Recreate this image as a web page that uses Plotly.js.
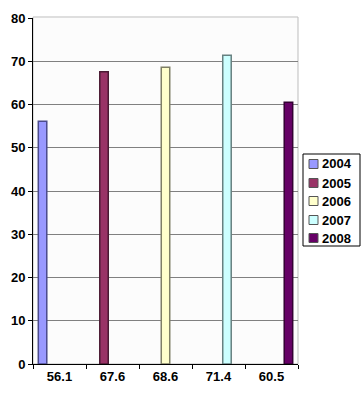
<!DOCTYPE html>
<html>
<head>
<meta charset="utf-8">
<script src="https://cdn.plot.ly/plotly-3.0.1.min.js"></script>
<style>html,body{margin:0;padding:0;background:#fff;}#chart{width:361px;height:400px;}</style>
</head>
<body>
<div id="chart"></div>
<script>
// ---- data ----
var categories = ["56.1", "67.6", "68.6", "71.4", "60.5"];
var seriesNames = ["2004", "2005", "2006", "2007", "2008"];
var s2004 = [56.1, null, null, null, null];
var s2005 = [null, 67.6, null, null, null];
var s2006 = [null, null, 68.6, null, null];
var s2007 = [null, null, null, 71.4, null];
var s2008 = [null, null, null, null, 60.5];
var yTicks = [0, 10, 20, 30, 40, 50, 60, 70, 80];

// ---- styles ----
var fills = ["#9999FF", "#993366", "#FFFFCC", "#CCFFFF", "#660066"];
var edges = ["#4B4B8C", "#4A1A33", "#7F7F66", "#668080", "#330033"];
var seriesValues = [s2004, s2005, s2006, s2007, s2008];

var W = 361, H = 400;
var M = {l: 33, r: 63, t: 18, b: 36};
var pw = W - M.l - M.r, ph = H - M.t - M.b;
function px(x) { return (x - M.l) / pw; }
function py(y) { return (H - M.b - y) / ph; }

var fam = "Liberation Sans, Arial, sans-serif";
var boldFont = {family: fam, size: 13, color: "#000", weight: 700};

var traces = seriesNames.map(function (n, i) {
  return {
    type: "bar",
    name: n,
    x: categories,
    y: seriesValues[i],
    marker: {color: fills[i], line: {color: edges[i], width: 1.5}},
    hoverinfo: "name+y"
  };
});

var shapes = [
  {type: "rect", xref: "paper", yref: "paper", x0: 0, x1: 1, y0: 0, y1: py(17), line: {color: "#BDBDBD", width: 1}, fillcolor: "rgba(0,0,0,0)", layer: "below"},
  {type: "rect", xref: "paper", yref: "paper", x0: px(303), x1: px(360), y0: py(246), y1: py(154), line: {color: "#000", width: 1}, fillcolor: "#fff"}
];
var annotations = [];
var rowY = [164, 183, 201, 220, 238];
seriesNames.forEach(function (n, i) {
  shapes.push({type: "rect", xref: "paper", yref: "paper",
    x0: px(309), x1: px(318), y0: py(rowY[i] + 4.5), y1: py(rowY[i] - 4.5),
    line: {color: "#555", width: 1}, fillcolor: fills[i]});
  annotations.push({xref: "paper", yref: "paper", x: px(320), y: py(rowY[i]),
    xanchor: "left", yanchor: "middle", showarrow: false, text: n,
    font: boldFont});
});

var layout = {
  width: W, height: H,
  margin: M,
  paper_bgcolor: "#fff",
  plot_bgcolor: "#FCFCFC",
  showlegend: false,
  barmode: "group",
  bargap: 0.2,
  bargroupgap: 0,
  font: {family: fam, size: 13, color: "#000"},
  xaxis: {
    type: "category",
    showgrid: false,
    showline: true, linecolor: "#000", linewidth: 1,
    ticks: "outside", tickson: "boundaries", ticklen: 4, tickcolor: "#000",
    tickfont: boldFont,
    fixedrange: true, zeroline: false
  },
  yaxis: {
    range: [0, 80],
    tickvals: yTicks,
    showgrid: true, gridcolor: "#808080", gridwidth: 1,
    showline: true, linecolor: "#000", linewidth: 1,
    ticks: "outside", ticklen: 4, tickcolor: "#000",
    tickfont: boldFont,
    zeroline: false, fixedrange: true
  },
  shapes: shapes,
  annotations: annotations
};

Plotly.newPlot("chart", traces, layout, {displayModeBar: false, staticPlot: true});
</script>
</body>
</html>
